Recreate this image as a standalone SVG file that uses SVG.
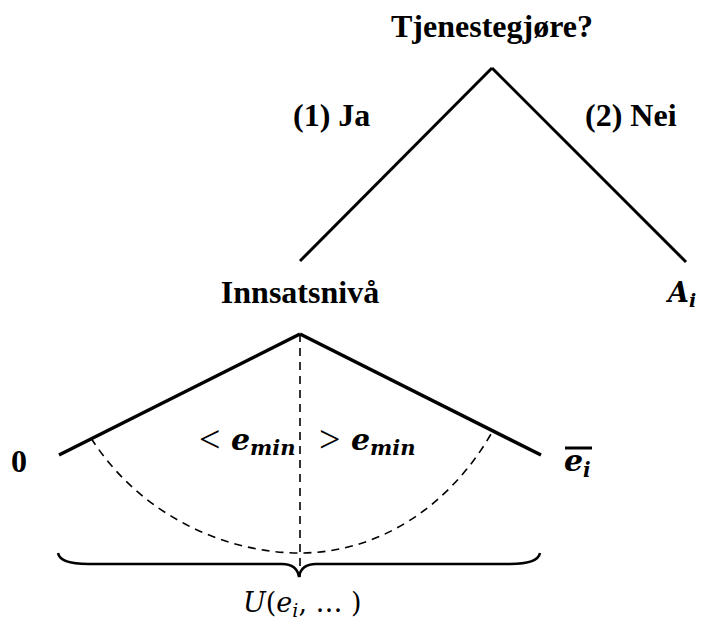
<svg xmlns="http://www.w3.org/2000/svg" width="702" height="623" viewBox="0 0 702 623">
<style>
.lbl{font-family:"Liberation Serif","Times New Roman",serif;font-weight:bold;font-size:32px;fill:#000}
.math{font-family:"DejaVu Serif","Liberation Serif",serif;font-style:italic;fill:#000}
.op{font-family:"Liberation Serif","Times New Roman",serif;font-style:normal;font-weight:normal}
.solid{stroke:#000;stroke-width:3.5;fill:none;stroke-linecap:butt}
.dash{stroke:#000;stroke-width:1.6;fill:none;stroke-dasharray:8 6}
</style>
<rect width="702" height="623" fill="#fff"/>
<g id="connectors">
<line class="solid" x1="300" y1="261" x2="492" y2="68" style="stroke-width:3"/>
<line class="solid" x1="492" y1="68" x2="686" y2="262" style="stroke-width:3"/>
<line class="solid" x1="59" y1="455" x2="300" y2="334"/>
<line class="solid" x1="300" y1="334" x2="541" y2="455"/>
<line class="dash" x1="300" y1="334" x2="300" y2="577"/>
<path class="dash" d="M91 438 C140 515 225 553 300 553 C380 553 450 505 491 434"/>
<path d="M58 553 Q60 564 88 564 L282 564 Q297 564 299 577 Q301 564 316 564 L510 564 Q538 564 540 553" stroke="#000" stroke-width="2.5" fill="none"/>
</g>
<g id="node-root"><text class="lbl" x="492" y="37" text-anchor="middle">Tjenestegjøre?</text></g>
<g id="label-ja"><text class="lbl" x="293" y="126">(1) Ja</text></g>
<g id="label-nei"><text class="lbl" x="585" y="126">(2) Nei</text></g>
<g id="node-innsats"><text class="lbl" x="300" y="303" text-anchor="middle">Innsatsnivå</text></g>
<g id="node-A"><text class="math" x="668" y="302" font-size="27" font-weight="bold">A<tspan font-size="19" dy="5">i</tspan></text></g>
<g id="node-0"><text class="lbl" x="11" y="472">0</text></g>
<g id="node-emax"><line x1="565" y1="448" x2="592" y2="448" stroke="#000" stroke-width="3"/><text class="math" x="564" y="471" font-size="30" font-weight="bold">e<tspan font-size="20" dy="6">i</tspan></text></g>
<g id="label-lt"><text class="op" x="199" y="452" font-size="38">&lt;</text><text class="math" x="231" y="450" font-size="30" font-weight="bold">e<tspan font-size="21" dy="5">min</tspan></text></g>
<g id="label-gt"><text class="op" x="319" y="452" font-size="38">&gt;</text><text class="math" x="351" y="450" font-size="30" font-weight="bold">e<tspan font-size="21" dy="5">min</tspan></text></g>
<g id="label-U"><text class="math" x="243" y="612" font-size="27">U<tspan font-style="normal">(</tspan>e<tspan font-size="19" dy="5">i</tspan><tspan dy="-5" font-style="normal">, … )</tspan></text></g>
</svg>
